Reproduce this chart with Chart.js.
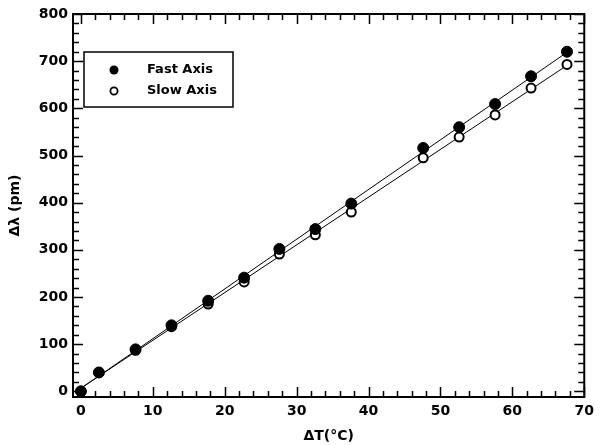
<!DOCTYPE html>
<html>
<head>
<meta charset="utf-8">
<script src="https://cdn.jsdelivr.net/npm/chart.js@4"></script>
<style>
  html, body { margin: 0; padding: 0; background: #fff; }
  #wrap { width: 600px; height: 445px; }
</style>
</head>
<body>
<div id="wrap"><canvas id="chart" width="600" height="445"></canvas></div>
<script>
// temperature change (°C)
const deltaT = [0, 2.5, 7.6, 12.6, 17.7, 22.7, 27.6, 32.6, 37.6, 47.6, 52.6, 57.6, 62.6, 67.6];
// wavelength shift (pm)
const fastAxis = [0, 40, 89, 140, 192, 241, 302, 344, 398, 516, 560, 609, 668, 720];
const slowAxis = [0, 40, 87, 137, 185, 232, 291, 332, 380, 495, 539, 586, 643, 693];

const xTicks = [0, 10, 20, 30, 40, 50, 60, 70];
const yTicks = [0, 100, 200, 300, 400, 500, 600, 700, 800];
const seriesLabels = ['Fast Axis', 'Slow Axis'];

const FONT = "'DejaVu Sans', sans-serif";

// least squares line through the measured points
function fitLine(xs, ys) {
    const n = xs.length;
    const sx = xs.reduce((a, b) => a + b, 0);
    const sy = ys.reduce((a, b) => a + b, 0);
    const sxy = xs.reduce((a, x, i) => a + x * ys[i], 0);
    const sxx = xs.reduce((a, x) => a + x * x, 0);
    const slope = (n * sxy - sx * sy) / (n * sxx - sx * sx);
    const icpt = (sy - slope * sx) / n;
    const x0 = xs[0], x1 = xs[n - 1];
    return [{ x: x0, y: slope * x0 + icpt }, { x: x1, y: slope * x1 + icpt }];
}

const pts = ys => deltaT.map((x, i) => ({ x: x, y: ys[i] }));

// frame, inward ticks (all four sides) and the boxed legend
const framePlugin = {
    id: 'frame',
    afterDraw(chart) {
        const { ctx, chartArea: a, scales: { x, y } } = chart;
        ctx.save();
        ctx.strokeStyle = '#000';
        ctx.lineWidth = 1.5;
        for (let v = 0; v <= 70; v += 2) {
            const px = Math.round(x.getPixelForValue(v)) + 0.5;
            const len = v % 10 === 0 ? 10 : 6;
            ctx.beginPath();
            ctx.moveTo(px, a.bottom); ctx.lineTo(px, a.bottom - len);
            ctx.moveTo(px, a.top); ctx.lineTo(px, a.top + len);
            ctx.stroke();
        }
        for (let v = 0; v <= 800; v += 20) {
            const py = Math.round(y.getPixelForValue(v)) + 0.5;
            const len = v % 100 === 0 ? 10 : 6;
            ctx.beginPath();
            ctx.moveTo(a.left, py); ctx.lineTo(a.left + len, py);
            ctx.moveTo(a.right, py); ctx.lineTo(a.right - len, py);
            ctx.stroke();
        }
        ctx.lineWidth = 2;
        ctx.strokeRect(a.left, a.top, a.right - a.left, a.bottom - a.top);

        // legend
        const lx = a.left + 11, ly = 52, lw = 149, lh = 55;
        ctx.fillStyle = '#fff';
        ctx.fillRect(lx, ly, lw, lh);
        ctx.lineWidth = 1.5;
        ctx.strokeRect(lx, ly, lw, lh);
        ctx.font = 'bold 13px ' + FONT;
        ctx.textBaseline = 'middle';
        seriesLabels.forEach((lab, i) => {
            const cy = ly + 18 + i * 21;
            ctx.beginPath();
            ctx.arc(lx + 30, cy, 4.5, 0, Math.PI * 2);
            if (i === 0) { ctx.fillStyle = '#000'; ctx.fill(); }
            else { ctx.lineWidth = 1.8; ctx.arc(lx + 30, cy, 3.5, 0, Math.PI * 2); ctx.beginPath(); ctx.arc(lx + 30, cy, 3.6, 0, Math.PI * 2); ctx.stroke(); }
            ctx.fillStyle = '#000';
            ctx.fillText(lab, lx + 63, cy);
        });
        ctx.restore();
    }
};

new Chart(document.getElementById('chart'), {
    type: 'scatter',
    data: {
        datasets: [
            {
                label: seriesLabels[0],
                data: pts(fastAxis),
                backgroundColor: '#000',
                borderColor: '#000',
                pointRadius: 5.5,
                order: 1
            },
            {
                label: seriesLabels[1],
                data: pts(slowAxis),
                backgroundColor: '#fff',
                borderColor: '#000',
                borderWidth: 2,
                pointRadius: 4.5,
                order: 2
            },
            {
                data: fitLine(deltaT, fastAxis),
                type: 'line',
                borderColor: '#000',
                borderWidth: 1,
                pointRadius: 0,
                fill: false,
                order: 3
            },
            {
                data: fitLine(deltaT, slowAxis),
                type: 'line',
                borderColor: '#000',
                borderWidth: 1,
                pointRadius: 0,
                fill: false,
                order: 3
            }
        ]
    },
    options: {
        responsive: false,
        animation: false,
        layout: { padding: { left: 0, top: 14, right: 8, bottom: 0 } },
        plugins: { legend: { display: false }, tooltip: { enabled: false } },
        scales: {
            x: {
                type: 'linear',
                min: -1.1,
                max: 70,
                afterBuildTicks: s => { s.ticks = xTicks.map(v => ({ value: v })); },
                afterFit: s => { s.height = 48; },
                grid: { display: false, drawTicks: false },
                border: { display: false },
                ticks: { color: '#000', padding: 6, font: { family: FONT, size: 14, weight: 'bold' } },
                title: {
                    display: true,
                    text: 'ΔT(°C)',
                    color: '#000',
                    padding: { top: -1, bottom: 0 },
                    font: { family: FONT, size: 14, weight: 'bold' }
                }
            },
            y: {
                type: 'linear',
                min: -12,
                max: 800,
                afterBuildTicks: s => { s.ticks = yTicks.map(v => ({ value: v })); },
                afterFit: s => { s.width = 73; },
                grid: { display: false, drawTicks: false },
                border: { display: false },
                ticks: { color: '#000', padding: 5, font: { family: FONT, size: 14, weight: 'bold' } },
                title: {
                    display: true,
                    text: 'Δλ (pm)',
                    color: '#000',
                    padding: { top: 7, bottom: 0 },
                    font: { family: FONT, size: 14, weight: 'bold' }
                }
            }
        }
    },
    plugins: [framePlugin]
});
</script>
</body>
</html>
